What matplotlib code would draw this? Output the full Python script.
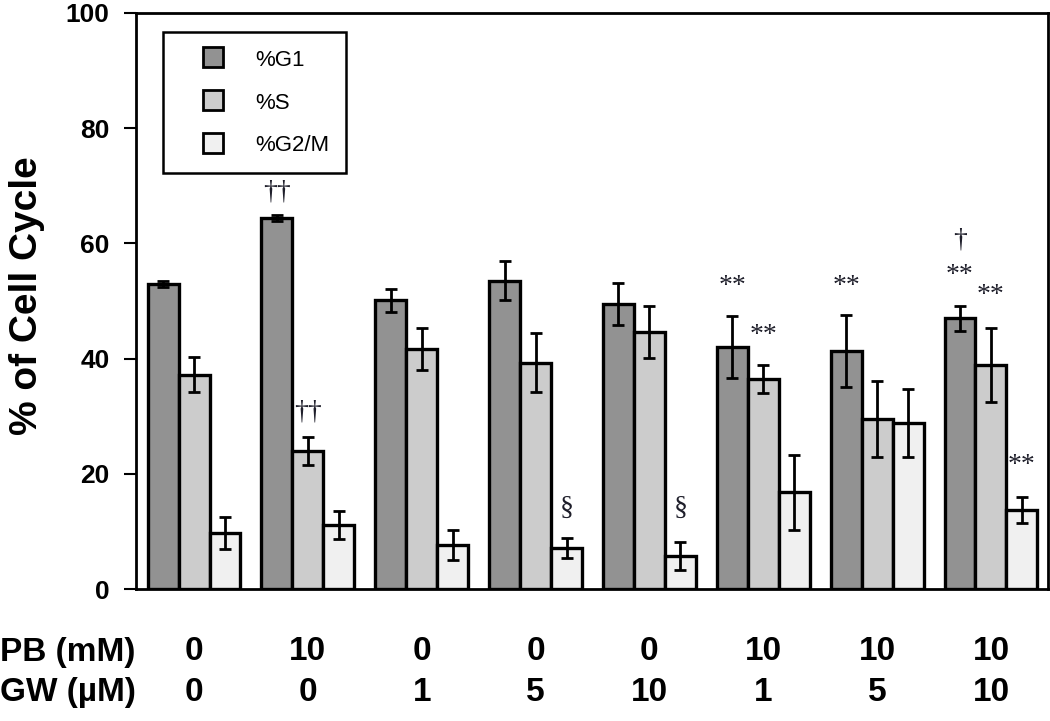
import matplotlib
matplotlib.use("Agg")
import matplotlib.pyplot as plt
import numpy as np
from matplotlib.lines import Line2D
from matplotlib.transforms import blended_transform_factory

plt.rcParams['font.family'] = ['Liberation Sans', 'DejaVu Sans']

# treatment conditions
pb_conc = ['0', '10', '0', '0', '0', '10', '10', '10']
gw_conc = ['0', '0', '1', '5', '10', '1', '5', '10']

# cell cycle phase percentages (mean and error)
series_names = ['%G1', '%S', '%G2/M']
g1 = [52.9, 64.4, 50.1, 53.5, 49.5, 42.0, 41.3, 47.0]
g1_err = [0.5, 0.5, 2.0, 3.4, 3.7, 5.4, 6.3, 2.2]
s_phase = [37.2, 24.0, 41.7, 39.3, 44.6, 36.5, 29.6, 38.9]
s_err = [3.0, 2.4, 3.6, 5.1, 4.5, 2.4, 6.6, 6.5]
g2m = [9.7, 11.1, 7.7, 7.1, 5.7, 16.8, 28.8, 13.7]
g2m_err = [2.8, 2.4, 2.6, 1.7, 2.4, 6.5, 5.9, 2.3]

# significance marks: group index, series index, symbol, height
ann_group = [1, 1, 3, 4, 5, 5, 6, 7, 7, 7, 7]
ann_series = [0, 1, 2, 2, 0, 1, 0, 0, 0, 1, 2]
ann_text = ['\u2020\u2020', '\u2020\u2020', '\u00a7', '\u00a7', '**', '**', '**',
            '\u2020', '**', '**', '**']
ann_y = [69.0, 30.8, 14.0, 14.0, 52.6, 44.1, 52.6, 60.6, 54.4, 50.9, 21.4]

colors = ['#929292', '#cccccc', '#f0f0f0']
width = 0.272

fig = plt.figure(figsize=(10.5, 7.21), dpi=100)
ax = fig.add_axes([0.1295, 0.183, 0.8685, 0.799])

x = np.arange(len(pb_conc))
values = [g1, s_phase, g2m]
errors = [g1_err, s_err, g2m_err]
for i, (vals, errs) in enumerate(zip(values, errors)):
    pos = x + (i - 1) * width
    ax.bar(pos, vals, width, color=colors[i], edgecolor='black', linewidth=2.4,
           zorder=2)
    ax.errorbar(pos, vals, yerr=errs, fmt='none', ecolor='black', elinewidth=2,
                capsize=4, capthick=2, zorder=3)

for g, si, t, yv in zip(ann_group, ann_series, ann_text, ann_y):
    ax.text(g + (si - 1) * width, yv, t, ha='center', va='center',
            fontsize=20, family=['Liberation Serif', 'DejaVu Serif'],
            color='#1e1e2a', zorder=4)

ax.set_xlim(-0.51, 7.5)
ax.set_ylim(0, 100)
ax.set_xticks([])
ax.set_yticks([0, 20, 40, 60, 80, 100])
ax.tick_params(axis='y', direction='out', length=9, width=1.5, pad=10,
               labelsize=19)
for lab in ax.get_yticklabels():
    lab.set_fontweight('bold')
for sp in ax.spines.values():
    sp.set_linewidth(2)

ax.set_ylabel('% of Cell Cycle', fontsize=28, fontweight='bold')
ax.yaxis.set_label_coords(-0.100, 0.51)

# treatment rows under the axis
trans = blended_transform_factory(ax.transData, ax.transAxes)
for xi, pb, gw in zip(x, pb_conc, gw_conc):
    ax.text(xi, -0.109, pb, transform=trans, ha='center', va='center',
            fontsize=24, fontweight='bold')
    ax.text(xi, -0.179, gw, transform=trans, ha='center', va='center',
            fontsize=24, fontweight='bold')
fig.text(0.0, 1 - 652 / 721, 'PB (mM)', ha='left', va='center', fontsize=24,
         fontweight='bold')
fig.text(0.0, 1 - 692 / 721, 'GW (\u00b5M)', ha='left', va='center',
         fontsize=24, fontweight='bold')

handles = [Line2D([], [], linestyle='none', marker='s', markersize=14,
                  markerfacecolor=c, markeredgecolor='black',
                  markeredgewidth=2) for c in colors]
leg = ax.legend(handles, series_names, loc='upper left',
                bbox_to_anchor=(0.0296, 0.967), borderaxespad=0,
                fontsize=16, handlelength=3, handleheight=1.0,
                handletextpad=0.4, labelspacing=0.9, borderpad=0.75,
                fancybox=False, framealpha=1, edgecolor='black')
leg.get_frame().set_linewidth(1.8)

fig.savefig('out.png', dpi=100)
